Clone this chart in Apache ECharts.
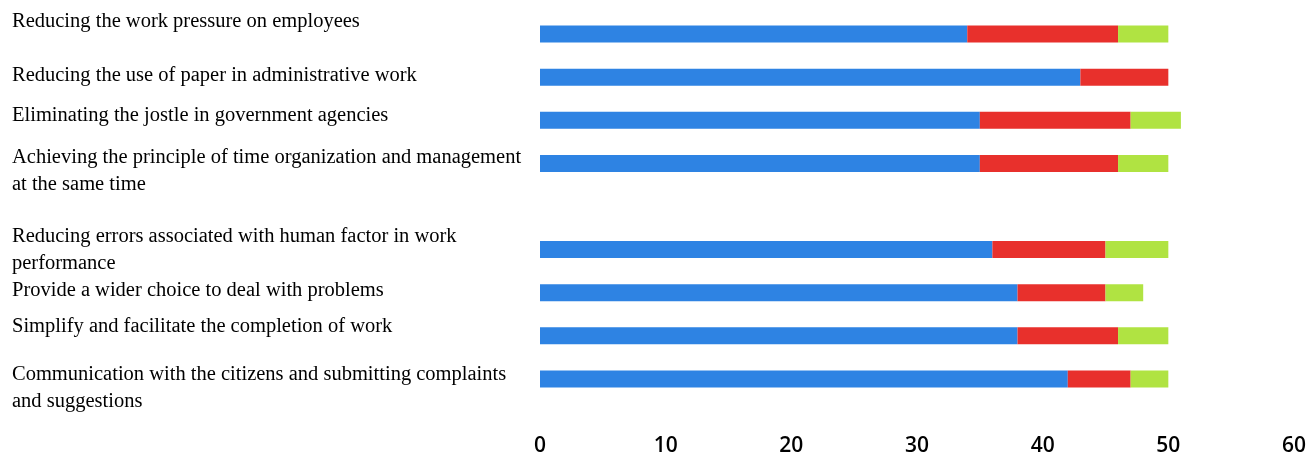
<!DOCTYPE html>
<html>
<head>
<meta charset="utf-8">
<script src="https://cdn.jsdelivr.net/npm/echarts@6/dist/echarts.min.js"></script>
<style>
html,body{margin:0;padding:0;background:#fff;}
#chart{width:1309px;height:452px;}
</style>
</head>
<body>
<div id="chart"></div>
<script>
// Categories (top to bottom); '' is the empty slot in the reference layout
const categories = [
  'Reducing the work pressure on employees',
  'Reducing the use of paper in administrative work',
  'Eliminating the jostle in government agencies',
  'Achieving the principle of time organization and management\nat the same time',
  '',
  'Reducing errors associated with human factor in work\nperformance',
  'Provide a wider choice to deal with problems',
  'Simplify and facilitate the completion of work',
  'Communication with the citizens and submitting complaints\nand suggestions'
];
const blueValues  = [34, 43, 35, 35, null, 36, 38, 38, 42];
const redValues   = [12, 7, 12, 11, null, 9, 7, 8, 5];
const greenValues = [4, 0, 4, 4, null, 5, 3, 4, 3];
const xTicks = { min: 0, max: 60, interval: 10 };

// vertical shift of each label relative to its bar (px, negative = up)
const labelShift = [-12, -2, -5, 8, 0, 0, -2, -9, 9];

const rich = {};
labelShift.forEach((d, i) => {
  if (d !== 0) rich['s' + i] = { lineHeight: Math.abs(d) * 2, fontSize: 1 };
});

const chart = echarts.init(document.getElementById('chart'));
chart.setOption({
  animation: false,
  backgroundColor: '#ffffff',
  grid: { left: 540, right: 15, top: 12.5, bottom: 51.5, containLabel: false, outerBoundsMode: 'none' },
  xAxis: {
    type: 'value',
    min: xTicks.min, max: xTicks.max, interval: xTicks.interval,
    axisLine: { show: false },
    axisTick: { show: false },
    splitLine: { show: false },
    axisLabel: {
      margin: 35,
      color: '#000',
      fontFamily: 'Open Sans',
      fontWeight: 600,
      fontSize: 21
    }
  },
  yAxis: {
    type: 'category',
    inverse: true,
    data: categories,
    axisLine: { show: false },
    axisTick: { show: false },
    splitLine: { show: false },
    axisLabel: {
      interval: 0,
      align: 'left',
      margin: 528,
      color: '#000',
      fontFamily: '"Liberation Serif", "Times New Roman", serif',
      fontSize: 20.5,
      lineHeight: 27,
      rich: rich,
      formatter: function (value, index) {
        if (!value) return '';
        const d = labelShift[index];
        if (d < 0) return value + '\n{s' + index + '| }';
        if (d > 0) return '{s' + index + '| }\n' + value;
        return value;
      }
    }
  },
  series: [
    { name: 'A', type: 'bar', stack: 't', data: blueValues, barWidth: 17, itemStyle: { color: '#2e83e3' } },
    { name: 'B', type: 'bar', stack: 't', data: redValues, barWidth: 17, itemStyle: { color: '#e8302c' } },
    { name: 'C', type: 'bar', stack: 't', data: greenValues, barWidth: 17, itemStyle: { color: '#b0e342' } }
  ]
});
</script>
</body>
</html>
